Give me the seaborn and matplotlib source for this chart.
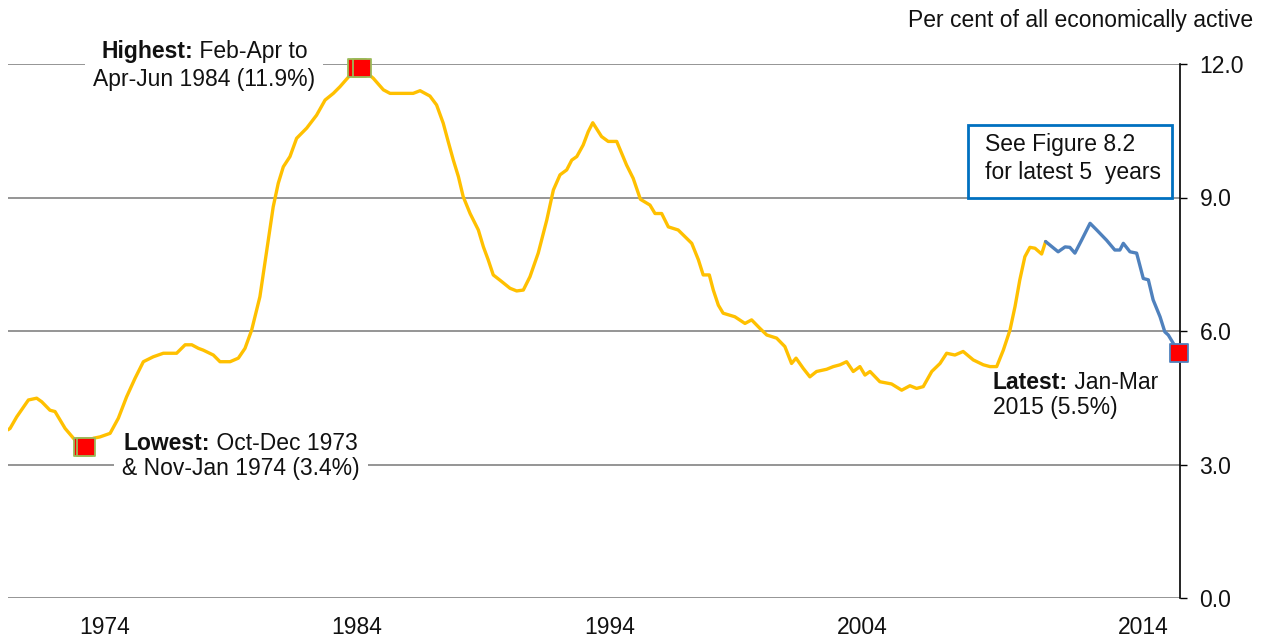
import numpy as np
import pandas as pd
import matplotlib
matplotlib.use("Agg")
import matplotlib.pyplot as plt
import seaborn as sns
from matplotlib.patches import Rectangle

# Unemployment rate (%), rolling 3-month, centred dates as decimal years
anios = [1971.08, 1971.16, 1971.41, 1971.85, 1972.16, 1972.35, 1972.66, 1972.85, 1973.23, 1973.60,
         1973.92, 1974.00, 1974.29, 1974.54, 1974.92, 1975.23, 1975.54, 1975.86, 1976.17, 1976.54,
         1976.92, 1977.42, 1977.74, 1977.99, 1978.24, 1978.42, 1978.80, 1979.05, 1979.43, 1979.74,
         1979.99, 1980.24, 1980.55, 1980.81, 1981.05, 1981.24, 1981.43, 1981.68, 1981.93, 1982.31,
         1982.68, 1983.00, 1983.31, 1983.56, 1983.94, 1984.21, 1984.37, 1984.81, 1985.19, 1985.44,
         1986.31, 1986.57, 1986.94, 1987.19, 1987.44, 1987.63, 1987.82, 1988.01, 1988.19, 1988.45,
         1988.76, 1988.95, 1989.13, 1989.32, 1989.64, 1989.95, 1990.20, 1990.45, 1990.70, 1991.01,
         1991.33, 1991.58, 1991.83, 1992.08, 1992.27, 1992.46, 1992.70, 1992.89, 1993.06, 1993.39,
         1993.64, 1993.96, 1994.15, 1994.33, 1994.58, 1994.85, 1995.21, 1995.40, 1995.65, 1995.90,
         1996.27, 1996.59, 1996.78, 1997.03, 1997.21, 1997.44, 1997.59, 1997.78, 1997.96, 1998.40,
         1998.78, 1999.03, 1999.34, 1999.60, 1999.97, 2000.28, 2000.53, 2000.70, 2000.97, 2001.22,
         2001.47, 2001.85, 2002.10, 2002.35, 2002.60, 2002.85, 2003.10, 2003.29, 2003.48, 2003.85,
         2004.29, 2004.67, 2004.98, 2005.23, 2005.48, 2005.80, 2006.11, 2006.36, 2006.67, 2006.98,
         2007.36, 2007.74, 2007.99, 2008.24, 2008.49, 2008.74, 2008.93, 2009.11, 2009.30, 2009.49,
         2009.68, 2009.93, 2010.08]
tasa = [3.78, 3.81, 4.07, 4.45, 4.49, 4.41, 4.22, 4.19, 3.81, 3.55,
        3.40, 3.40, 3.59, 3.62, 3.70, 4.04, 4.52, 4.94, 5.31, 5.42,
        5.50, 5.50, 5.69, 5.69, 5.61, 5.57, 5.46, 5.31, 5.31, 5.39,
        5.61, 6.02, 6.77, 7.82, 8.79, 9.32, 9.69, 9.92, 10.33, 10.56,
        10.85, 11.19, 11.34, 11.49, 11.75, 11.90, 11.90, 11.68, 11.42, 11.34,
        11.34, 11.40, 11.28, 11.08, 10.67, 10.25, 9.84, 9.47, 9.02, 8.64,
        8.27, 7.89, 7.60, 7.26, 7.11, 6.96, 6.90, 6.92, 7.22, 7.75,
        8.49, 9.17, 9.51, 9.62, 9.84, 9.92, 10.18, 10.48, 10.68, 10.37,
        10.26, 10.26, 9.99, 9.73, 9.43, 8.96, 8.83, 8.64, 8.64, 8.34,
        8.27, 8.08, 7.97, 7.60, 7.26, 7.26, 6.92, 6.58, 6.40, 6.32,
        6.17, 6.25, 6.06, 5.91, 5.84, 5.65, 5.27, 5.39, 5.16, 4.97,
        5.09, 5.14, 5.20, 5.24, 5.31, 5.09, 5.20, 5.01, 5.09, 4.86,
        4.81, 4.67, 4.77, 4.71, 4.75, 5.09, 5.27, 5.50, 5.46, 5.54,
        5.35, 5.24, 5.20, 5.20, 5.57, 6.02, 6.55, 7.15, 7.67, 7.88,
        7.86, 7.73, 8.01]

# latest 5 years (see Figure 8.2)
anios_5 = [2010.08, 2010.55, 2010.81, 2010.99, 2011.18, 2011.43, 2011.75, 2012.00, 2012.37, 2012.68,
           2012.87, 2013.00, 2013.25, 2013.50, 2013.75, 2013.94, 2014.12, 2014.38, 2014.56, 2014.69,
           2014.88, 2015.08]
tasa_5 = [8.01, 7.78, 7.89, 7.88, 7.75, 8.04, 8.42, 8.27, 8.04, 7.82,
          7.82, 7.97, 7.78, 7.75, 7.18, 7.15, 6.70, 6.32, 5.98, 5.91,
          5.72, 5.50]

# puntos destacados
minimos = [1973.92, 1974.00]
maximos = [1984.21, 1984.37]
ultimo = [2015.08]

etiquetas_x = ["1974", "1984", "1994", "2004", "2014"]
pos_x = [1974.73, 1984.20, 1993.71, 2003.18, 2013.74]
ticks_y = [0, 3, 6, 9, 12]

df = pd.DataFrame({"anio": anios, "tasa": tasa})
df5 = pd.DataFrame({"anio": anios_5, "tasa": tasa_5})
todo = pd.concat([df, df5], ignore_index=True)

sns.set_style("white")
plt.rcParams["font.family"] = ["Liberation Sans", "DejaVu Sans"]
plt.rcParams["text.color"] = "#111111"
plt.rcParams["xtick.labelcolor"] = "#111111"
plt.rcParams["ytick.labelcolor"] = "#111111"

FS = 16.5

fig = plt.figure(figsize=(12.61, 6.4), dpi=100)
ax = fig.add_axes([8 / 1261, 1 - 598 / 640, 1172 / 1261, 534 / 640])

for y in ticks_y:
    ax.axhline(y, color="#8c8c8c", lw=1.3, zorder=1)

sns.lineplot(data=df, x="anio", y="tasa", color="#FFC000", lw=2.4, ax=ax, zorder=3)
sns.lineplot(data=df5, x="anio", y="tasa", color="#4F81BD", lw=2.4, ax=ax, zorder=3)

def puntos(fechas, borde):
    sel = todo[todo["anio"].round(2).isin(fechas)]
    sns.scatterplot(data=sel, x="anio", y="tasa", marker="s", s=150, color="#FF0000",
                    edgecolor=borde, linewidth=1.3, ax=ax, zorder=5, clip_on=False)

puntos(minimos, "#9BBB59")
puntos(maximos, "#9BBB59")
puntos(ultimo, "#4F81BD")

ax.set_xlim(1971.083, 2015.13)
ax.set_ylim(0, 12)
ax.set_xticks(pos_x)
ax.set_xticklabels(etiquetas_x, fontsize=FS)
ax.set_yticks(ticks_y)
ax.set_yticklabels([f"{v:.1f}" for v in ticks_y], fontsize=FS)
ax.yaxis.tick_right()
ax.tick_params(axis="x", length=0, pad=13)
ax.tick_params(axis="y", length=5, width=1, color="black", pad=9, direction="out")
ax.set_xlabel("")
ax.set_ylabel("")
for s in ["top", "left", "bottom"]:
    ax.spines[s].set_visible(False)
ax.spines["right"].set_color("black")
ax.spines["right"].set_linewidth(1.2)


def etiqueta(x1, y1, negrita, resto, x2, y2, linea2, fondo=False):
    t1 = ax.text(x1, y1, negrita, fontsize=FS, fontweight="bold", ha="left", va="center",
                 zorder=4, clip_on=False)
    ax.annotate(resto, xy=(1, 0.5), xycoords=t1, fontsize=FS, ha="left", va="center",
                zorder=4, annotation_clip=False)
    caja = dict(facecolor="white", edgecolor="none", pad=6) if fondo else None
    ax.text(x2, y2, linea2, fontsize=FS, ha="left", va="center", bbox=caja,
            zorder=2, clip_on=False)


etiqueta(1974.58, 12.27, "Highest:", " Feb-Apr to", 1974.28, 11.66, "Apr-Jun 1984 (11.9%)", True)
etiqueta(1975.44, 3.48, "Lowest:", " Oct-Dec 1973", 1975.37, 2.92, "& Nov-Jan 1974 (3.4%)", True)
etiqueta(2008.10, 4.85, "Latest:", " Jan-Mar", 2008.10, 4.27, "2015 (5.5%)")

ax.add_patch(Rectangle((960 / 1172, 9.0 / 12), 204 / 1172, 73 / 534, transform=ax.transAxes,
                       facecolor="white", edgecolor="#0070C0", lw=2, zorder=4))
ax.text(2007.80, 10.18, "See Figure 8.2", ha="left", va="center", fontsize=FS, zorder=5)
ax.text(2007.80, 9.57, "for latest 5  years", ha="left", va="center", fontsize=FS, zorder=5)

fig.text(1253 / 1261, 1 - 20 / 640, "Per cent of all economically active",
         ha="right", va="center", fontsize=FS)

fig.savefig("out.png", dpi=100)
